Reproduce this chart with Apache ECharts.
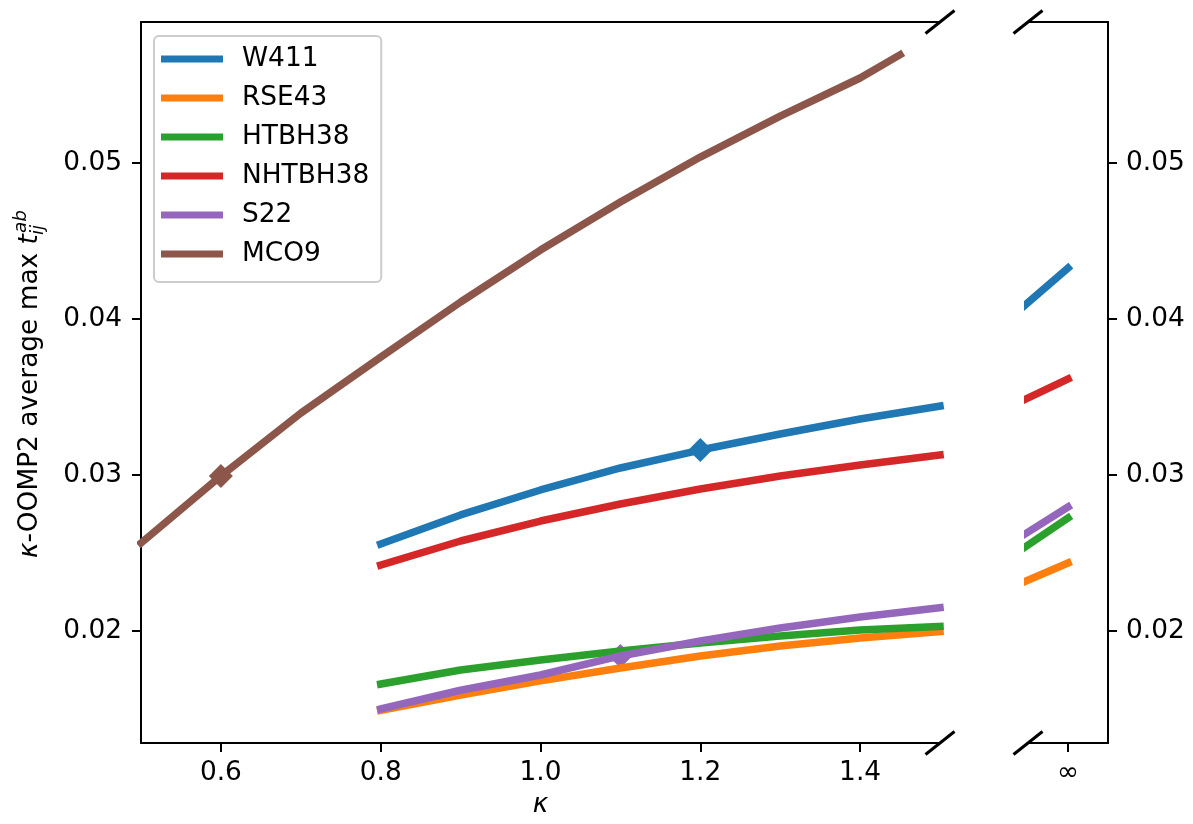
<!DOCTYPE html>
<html><head><meta charset="utf-8">
<script src="https://cdn.jsdelivr.net/npm/echarts@6/dist/echarts.min.js"></script>
<style>html,body{margin:0;padding:0;background:#fff}#c{width:1193px;height:824px}</style>
</head><body><div id="c"></div>
<script>
// ---------------- data ----------------
const seriesNames = ['W411', 'RSE43', 'HTBH38', 'NHTBH38', 'S22', 'MCO9'];
const colors = ['#1f77b4', '#ff7f0e', '#2ca02c', '#d62728', '#9467bd', '#8c564b'];
const kappa = [0.8, 0.9, 1.0, 1.1, 1.2, 1.3, 1.4, 1.5];
const kappaMCO9 = [0.5, 0.6, 0.7, 0.8, 0.9, 1.0, 1.1, 1.2, 1.3, 1.4, 1.45];
const W411 = [0.02558, 0.02744, 0.02904, 0.03045, 0.03160, 0.03263, 0.03359, 0.03442];
const RSE43 = [0.01492, 0.01590, 0.01680, 0.01763, 0.01840, 0.01904, 0.01955, 0.01997];
const HTBH38 = [0.01660, 0.01750, 0.01814, 0.01872, 0.01923, 0.01968, 0.02006, 0.02030];
const NHTBH38 = [0.02423, 0.02577, 0.02705, 0.02814, 0.02910, 0.02994, 0.03064, 0.03128];
const S22 = [0.01500, 0.01620, 0.01718, 0.01840, 0.01936, 0.02019, 0.02090, 0.02150];
const MCO9 = [0.02564, 0.02994, 0.03397, 0.03756, 0.04109, 0.04442, 0.04750, 0.05038, 0.05301, 0.05545, 0.05694];
// values at kappa = infinity (null = not shown)
const infValues = [0.04327, 0.02436, 0.02724, 0.03615, 0.02795, null];
const infPosition = 1.7;          // where "∞" sits on the right panel's scale
const rightRange = [1.65, 1.75];
const leftRange = [0.5, 1.5];
const yRange = [0.01282, 0.05904];
const xTicks = [0.6, 0.8, 1.0, 1.2, 1.4];
const yTicks = [0.02, 0.03, 0.04, 0.05];
const markerNames = ['W411', 'S22', 'MCO9'];
const markerKappa = [1.2, 1.1, 0.6];

// ---------------- layout ----------------
const G1 = {left: 141, top: 22, width: 799, height: 721};
const G2 = {left: 1028, top: 22, width: 80, height: 721};
const FONT = 'DejaVu Sans';
const FS = 26.4;

const seriesData = {W411, RSE43, HTBH38, NHTBH38, S22, MCO9};
const kappaFor = name => name === 'MCO9' ? kappaMCO9 : kappa;

const series = [];
// marker diamonds (below lines)
series.push({
  type: 'scatter', name: '_markers', xAxisIndex: 0, yAxisIndex: 0, z: 1,
  symbol: 'diamond', symbolSize: 24, silent: true,
  data: markerNames.map((n, i) => {
    const ks = kappaFor(n);
    const idx = ks.findIndex(k => Math.abs(k - markerKappa[i]) < 1e-9);
    return {value: [markerKappa[i], seriesData[n][idx]], itemStyle: {color: colors[seriesNames.indexOf(n)], opacity: 1}};
  })
});
seriesNames.forEach((n, si) => {
  const ks = kappaFor(n);
  const vals = seriesData[n];
  const ls = {width: 7.5, color: colors[si], cap: 'square', join: 'round'};
  series.push({
    type: 'line', name: n, xAxisIndex: 0, yAxisIndex: 0, showSymbol: false, symbol: 'none',
    clip: true, lineStyle: ls, itemStyle: {color: colors[si]},
    data: ks.map((k, i) => [k, vals[i]])
  });
  if (infValues[si] !== null) {
    series.push({
      type: 'line', name: n, xAxisIndex: 1, yAxisIndex: 1, showSymbol: false, symbol: 'none',
      clip: true, lineStyle: ls, itemStyle: {color: colors[si]},
      data: [[ks[ks.length - 1], vals[vals.length - 1]], [infPosition, infValues[si]]]
    });
  }
});

const axisLine = {show: true, lineStyle: {color: '#000', width: 2}};
const axisTick = (vals) => ({show: true, inside: false, length: 9, lineStyle: {color: '#000', width: 2}, customValues: vals});
const lbl = {fontFamily: FONT, fontSize: FS, color: '#000'};

const xAxis = [
  {type: 'value', gridIndex: 0, position: 'bottom', min: leftRange[0], max: leftRange[1],
   axisLine, axisTick: axisTick(xTicks), splitLine: {show: false},
   axisLabel: Object.assign({customValues: xTicks, margin: 17, formatter: v => v.toFixed(1)}, lbl),
   name: 'κ', nameLocation: 'middle', nameGap: 49,
   nameTextStyle: {fontFamily: FONT, fontSize: FS, fontStyle: 'italic', color: '#000'}},
  {type: 'value', gridIndex: 1, position: 'bottom', min: rightRange[0], max: rightRange[1],
   axisLine, axisTick: axisTick([infPosition]), splitLine: {show: false},
   axisLabel: Object.assign({customValues: [infPosition], margin: 17, formatter: () => '∞'}, lbl)},
  {type: 'value', gridIndex: 0, position: 'top', min: leftRange[0], max: leftRange[1],
   axisLine, axisTick: {show: false}, axisLabel: {show: false}, splitLine: {show: false}},
  {type: 'value', gridIndex: 1, position: 'top', min: rightRange[0], max: rightRange[1],
   axisLine, axisTick: {show: false}, axisLabel: {show: false}, splitLine: {show: false}}
];
const yAxis = [
  {type: 'value', gridIndex: 0, position: 'left', min: yRange[0], max: yRange[1],
   axisLine, axisTick: axisTick(yTicks), splitLine: {show: false},
   axisLabel: Object.assign({customValues: yTicks, margin: 19, formatter: v => v.toFixed(2)}, lbl)},
  {type: 'value', gridIndex: 1, position: 'right', min: yRange[0], max: yRange[1],
   axisLine, axisTick: axisTick(yTicks), splitLine: {show: false},
   axisLabel: Object.assign({customValues: yTicks, margin: 18, formatter: v => v.toFixed(2)}, lbl)}
];

// y-axis title with stacked sub/superscript
const ctx = document.createElement('canvas').getContext('2d');
function tw(t, size, italic) { ctx.font = (italic ? 'italic ' : '') + size + 'px "' + FONT + '"'; return ctx.measureText(t).width; }
const SS = FS * 0.7;
const w0 = tw('κ', FS, true), w1 = tw('-OOMP2 average max ', FS, false), w2 = tw('t', FS, true);
const w3 = Math.max(tw('ab', SS, true), tw('ij', SS, true));
const W = w0 + w1 + w2 + w3;
const x0 = -W / 2;
const mid = f => -0.346 * f;
function txt(t, x, baseY, size, italic) {
  return {type: 'text', style: {text: t, x: x, y: baseY + mid(size), font: (italic ? 'italic ' : '') + size + 'px "' + FONT + '"', fill: '#000', align: 'left', verticalAlign: 'middle'}};
}
const yTitle = {
  type: 'group', x: 39, y: (G1.top + G1.top + G1.height) / 2 + 2, rotation: Math.PI / 2,
  children: [
    txt('κ', x0, 0, FS, true),
    txt('-OOMP2 average max ', x0 + w0, 0, FS, false),
    txt('t', x0 + w0 + w1, 0, FS, true),
    txt('ab', x0 + w0 + w1 + w2 + 1, -11, SS, true),
    txt('ij', x0 + w0 + w1 + w2 - 1, 6, SS, true)
  ]
};

// break marks
function brk(cx, cy) {
  return {type: 'line', shape: {x1: cx - 14.5, y1: cy + 11.5, x2: cx + 14.5, y2: cy - 11.5},
          style: {stroke: '#000', lineWidth: 3}, z: 10};
}
const g1r = G1.left + G1.width, g2l = G2.left, gt = G1.top, gb = G1.top + G1.height;

const chart = echarts.init(document.getElementById('c'), null, {renderer: 'canvas'});
chart.setOption({
  animation: false,
  backgroundColor: '#fff',
  grid: [
    {left: G1.left, top: G1.top, width: G1.width, height: G1.height, containLabel: false},
    {left: G2.left, top: G2.top, width: G2.width, height: G2.height, containLabel: false}
  ],
  xAxis, yAxis,
  legend: {
    data: seriesNames, left: 154, top: 36, orient: 'vertical', icon: 'rect',
    itemWidth: 62, itemHeight: 7, itemGap: 9, selectedMode: false,
    padding: [8, 12, 13, 7], backgroundColor: 'rgba(255,255,255,0.8)',
    borderColor: '#cccccc', borderWidth: 2, borderRadius: 5,
    textStyle: {fontFamily: FONT, fontSize: FS, color: '#000', lineHeight: 30, padding: [0, 0, 0, 14]}
  },
  graphic: [yTitle, brk(g1r, gt), brk(g1r, gb), brk(g2l, gt), brk(g2l, gb)],
  series
});
</script>
</body></html>
